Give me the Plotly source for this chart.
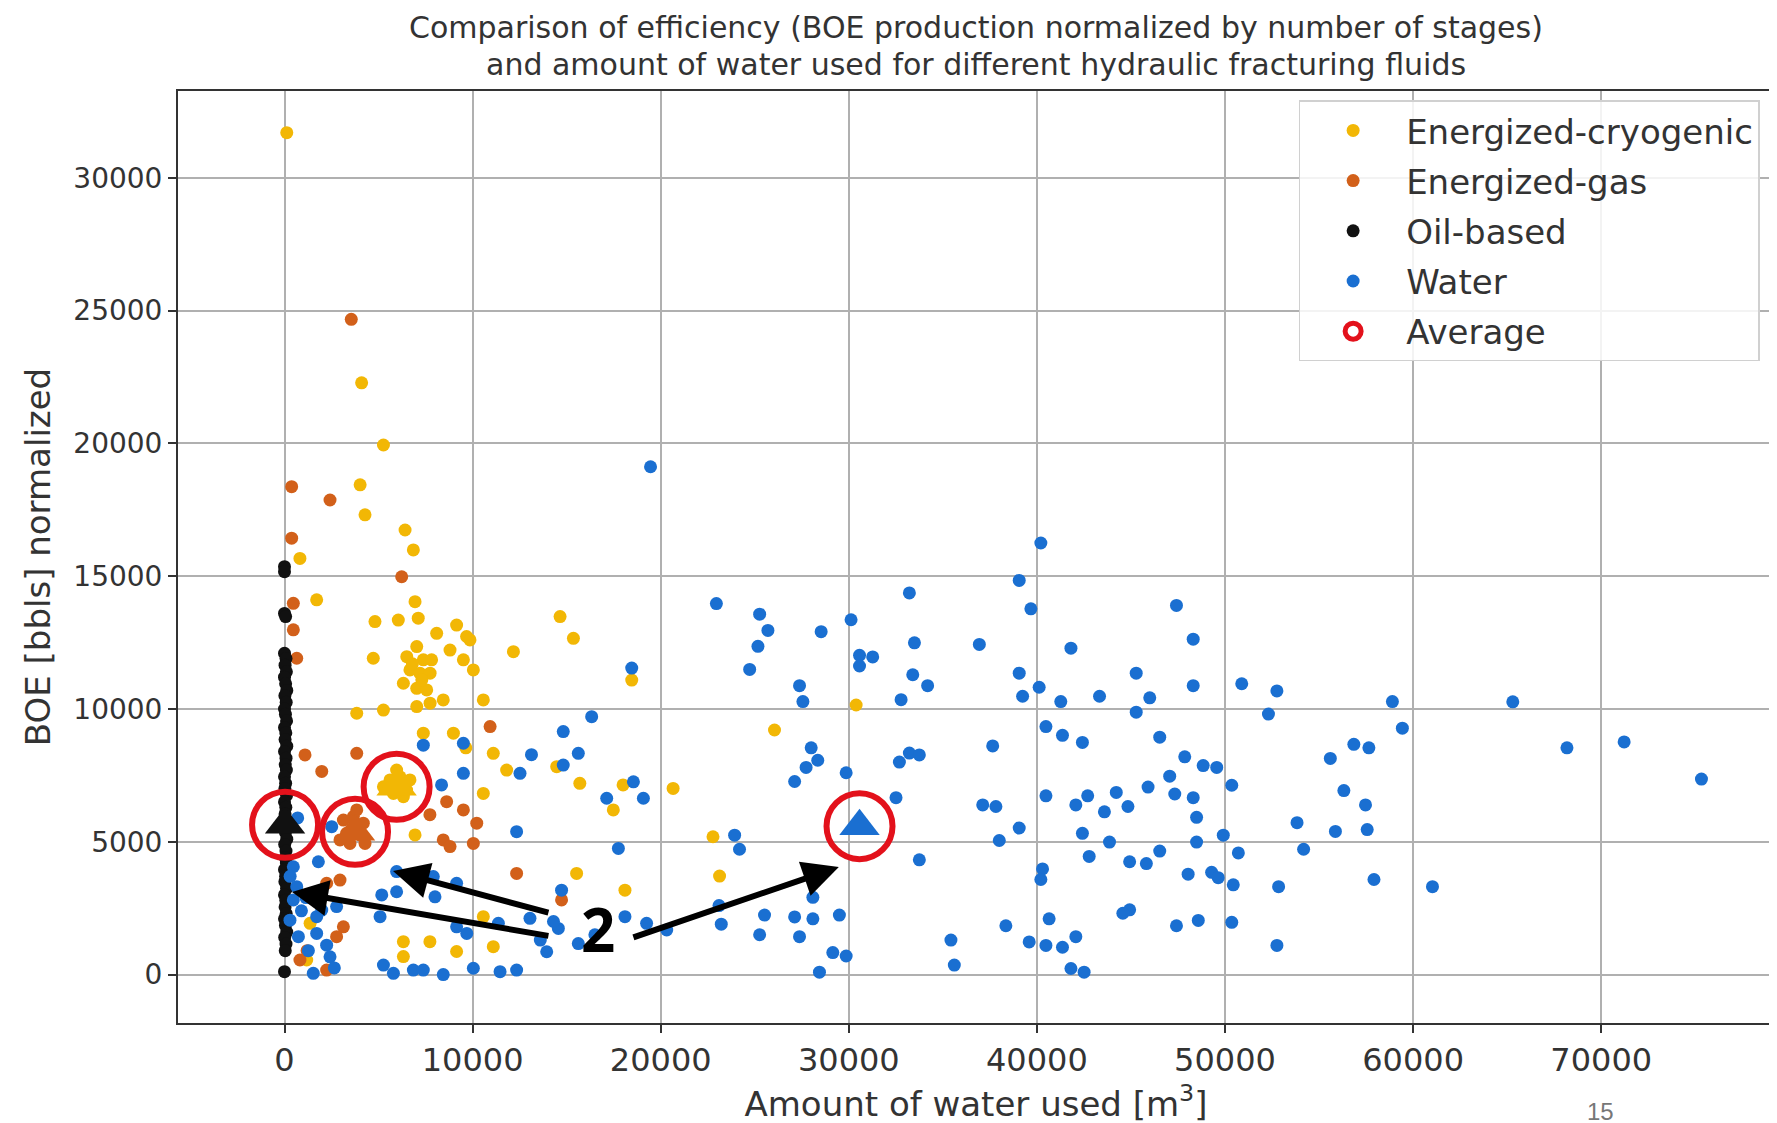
import plotly.graph_objects as go

# ---------------- data ----------------
series_names = ["Energized-cryogenic", "Energized-gas", "Oil-based", "Water"]

cryo_points = [
    (120, 31700), (4100, 22280), (5260, 19940), (4020, 18440), (4280, 17310), (6410, 16740),
    (6850, 15990), (820, 15670), (1710, 14110), (4810, 13290), (6050, 13350), (6940, 14040),
    (7110, 13420), (4720, 11910), (6500, 11970), (7030, 12350), (7380, 11850), (6670, 11470),
    (7200, 11350), (7740, 11350), (7820, 11850), (6320, 10970), (7030, 10780), (7560, 10720),
    (6800, 11700), (7300, 11100), (8090, 12850), (9150, 13160), (9680, 12730), (8800, 12220),
    (9510, 11850), (10040, 11470), (9860, 12600), (14650, 13480), (15360, 12660), (12170, 12160),
    (18460, 11090), (3840, 9840), (5260, 9960), (7030, 10090), (7740, 10220), (8440, 10340),
    (10570, 10340), (7380, 9090), (8980, 9090), (9640, 8540), (11100, 8330), (22780, 5190),
    (23130, 3710), (26050, 9210), (30390, 10150), (10570, 6820), (15700, 7200), (18000, 7140),
    (20660, 7010), (15530, 3810), (18100, 3180), (17480, 6200), (11810, 7700), (6940, 5260),
    (6320, 1240), (7730, 1240), (9150, 870), (6320, 680), (11100, 1050), (10570, 2180),
    (1360, 1930), (1180, 550), (14470, 7830), (5610, 7330), (6140, 7450), (6490, 6950),
    (5790, 6820), (5260, 7070), (6320, 6700), (6670, 7330), (5960, 7700),
]

gas_points = [
    (3550, 24670), (380, 18370), (2420, 17870), (380, 16430), (470, 13980), (470, 12980),
    (650, 11910), (6230, 14980), (10930, 9340), (1090, 8270), (3840, 8330), (1980, 7650),
    (9510, 6200), (10220, 5700), (8440, 5070), (10040, 4940), (8800, 4820), (12340, 3810),
    (14730, 2810), (2240, 3440), (2950, 3560), (3130, 1800), (2770, 1430), (820, 550),
    (2240, 170), (8620, 6510), (7730, 6020), (3130, 5820), (3660, 5950), (4190, 5700),
    (3300, 5320), (4010, 5260), (3480, 4940), (4280, 4940), (2950, 5070), (3840, 6200),
    (1200, 900), (1800, 2900),
]

oil_points = [
    (0, 15360), (0, 15170), (0, 13600), (60, 13480), (0, 110),
    (0, 12100), (80, 11900), (30, 11650), (100, 11400), (0, 11200), (60, 10950), (120, 10700),
    (20, 10500), (90, 10250), (0, 10000), (50, 9800), (110, 9550), (0, 9300), (70, 9100),
    (30, 8850), (120, 8600), (0, 8400), (80, 8150), (40, 7900), (100, 7700), (0, 7450),
    (60, 7200), (20, 7000), (110, 6750), (0, 6500), (70, 6300), (30, 6050), (90, 5800),
    (0, 5600), (50, 5350), (120, 5100), (10, 4900), (80, 4650), (40, 4400), (100, 4200),
    (0, 3950), (60, 3700), (20, 3500), (110, 3250), (0, 3000), (70, 2800), (30, 2550),
    (90, 2300), (0, 2100), (50, 1850), (120, 1600), (10, 1400), (80, 1150), (40, 900),
]

water_points = [
    # left part
    (19460, 19120), (18460, 11540), (16330, 9710), (14820, 9150), (15620, 8330), (13130, 8280),
    (9510, 8710), (7380, 8640), (9510, 7580), (8350, 7140), (12520, 7580), (14820, 7890),
    (17130, 6640), (18550, 7260), (19080, 6640), (12340, 5380), (17750, 4750), (2510, 5570),
    (1800, 4250), (5960, 3880), (7910, 3690), (9150, 3440), (5170, 3000), (5960, 3120),
    (8000, 2930), (14730, 3180), (5080, 2180), (9150, 1800), (9690, 1550), (11370, 1930),
    (13050, 2120), (14560, 1740), (15620, 1170), (13940, 860), (18100, 2180), (19250, 1930),
    (20320, 1680), (470, 4060), (470, 2810), (290, 2050), (740, 1430), (1980, 2430),
    (1710, 1550), (2240, 1110), (2420, 670), (1530, 50), (5260, 360), (5790, 50), (6850, 170),
    (7380, 170), (8440, 0), (10040, 240), (11460, 110), (12340, 170), (650, 3310), (1710, 2180),
    (700, 5900), (1140, 2900), (2770, 2560), (1270, 900), (2650, 250), (900, 2400), (300, 3700),
    (13600, 1300), (16500, 1500), (14300, 2000), (23100, 2600),
    # middle part
    (22960, 13970), (25260, 13570), (25700, 12960), (25170, 12360), (24730, 11490),
    (28530, 12910), (30120, 13360), (33220, 14370), (30570, 12020), (31270, 11960),
    (30570, 11620), (33490, 12490), (33400, 11290), (34190, 10880), (32780, 10350),
    (36940, 12430), (39060, 14840), (39680, 13770), (40210, 16250), (41810, 12290),
    (39060, 11350), (40120, 10820), (39240, 10480), (41270, 10280), (40480, 9340),
    (41360, 9010), (42420, 8740), (37650, 8610), (27380, 10880), (27560, 10280), (28000, 8540),
    (28350, 8070), (27730, 7800), (27120, 7270), (29860, 7600), (32690, 8000), (33220, 8340),
    (33750, 8270), (32510, 6660), (23930, 5250), (24190, 4720), (33750, 4320), (37120, 6390),
    (37820, 6330), (39060, 5520), (38000, 5050), (40480, 6730), (42070, 6390), (42420, 5320),
    (42780, 4450), (40300, 3980), (40210, 3580), (40650, 2100), (38350, 1840), (35430, 1300),
    (35610, 360), (39590, 1230), (40480, 1100), (41360, 1030), (42070, 1430), (41810, 230),
    (42510, 90), (28440, 90), (29150, 830), (29860, 700), (28090, 2910), (28090, 2100),
    (29500, 2240), (27120, 2170), (27380, 1430), (25520, 2240), (25260, 1500), (23220, 1900),
    # right part
    (47420, 13900), (48310, 12630), (45280, 11350), (48310, 10880), (43330, 10480),
    (46000, 10420), (45280, 9880), (50890, 10950), (52760, 10680), (52310, 9810),
    (58900, 10280), (59430, 9280), (46530, 8940), (47860, 8200), (48840, 7870), (49560, 7800),
    (50360, 7130), (55600, 8140), (56850, 8670), (57650, 8540), (56320, 6930), (57470, 6390),
    (57560, 5460), (55870, 5390), (53830, 5720), (54180, 4720), (57920, 3580), (61030, 3310),
    (52850, 3310), (52760, 1100), (50360, 1970), (48580, 2040), (47420, 1840), (44930, 2440),
    (44570, 2310), (48040, 3780), (49290, 3850), (49640, 3650), (50440, 3380), (50710, 4580),
    (49910, 5250), (48490, 4990), (48490, 5920), (48310, 6660), (47330, 6800), (47060, 7470),
    (45910, 7060), (44840, 6330), (43590, 6130), (44220, 6860), (42700, 6730), (43860, 4990),
    (44930, 4250), (45820, 4180), (46530, 4650),
    (65300, 10270), (68180, 8540), (71220, 8760), (75330, 7360),
]

# averages (one per fluid type)
avg_x = [5960, 3750, 30, 30570]
avg_y = [7070, 5380, 5640, 5590]

x_ticks = [0, 10000, 20000, 30000, 40000, 50000, 60000, 70000]
y_ticks = [0, 5000, 10000, 15000, 20000, 25000, 30000]

title_lines = [
    "Comparison of efficiency (BOE production normalized by number of stages)",
    "and amount of water used for different hydraulic fracturing fluids",
]

# ---------------- styling ----------------
colors = ["#F2B705", "#D2601A", "#111111", "#1A6FD1"]
avg_color = "#E3111B"
FONT = "DejaVu Sans"
TXT = "#333333"

fig = go.Figure()

for name, pts, col in zip(series_names, [cryo_points, gas_points, oil_points, water_points], colors):
    xs = [p[0] for p in pts]
    ys = [p[1] for p in pts]
    fig.add_trace(go.Scatter(
        x=xs, y=ys, mode="markers", name=name, legendgroup=name,
        marker=dict(size=13, color=col, line=dict(width=0)),
    ))

# triangle markers at each average
fig.add_trace(go.Scatter(
    x=avg_x, y=avg_y, mode="markers", showlegend=False,
    marker=dict(symbol="triangle-up", size=35, color=colors, line=dict(width=0)),
))

# red open circles around averages
fig.add_trace(go.Scatter(
    x=avg_x, y=avg_y, mode="markers", name="Average", legendgroup="Average",
    marker=dict(symbol="circle-open", size=66, color=avg_color, line=dict(width=6, color=avg_color)),
))

# arrows pointing at the "2" cases
arrows = [
    dict(x=400, y=3110, ax=14110, ay=1450),
    dict(x=5770, y=3900, ax=14110, ay=2320),
    dict(x=29470, y=4050, ax=18470, ay=1380),
]
for a in arrows:
    fig.add_annotation(
        x=a["x"], y=a["y"], ax=a["ax"], ay=a["ay"], xref="x", yref="y", axref="x", ayref="y",
        text="", showarrow=True, arrowhead=2, arrowsize=1.2, arrowwidth=6, arrowcolor="black",
        standoff=0, startstandoff=0,
    )

fig.add_annotation(
    x=16670, y=1730, xref="x", yref="y", text="<b>2</b>", showarrow=False,
    font=dict(family="Open Sans", size=60, color="black"),
)

# title (two centred lines)
for line, yy in zip(title_lines, [1.0681, 1.0284]):
    fig.add_annotation(
        x=0.5, y=yy, xref="paper", yref="paper", text=line, showarrow=False,
        xanchor="center", yanchor="middle",
        font=dict(family=FONT, size=30, color=TXT),
    )

# page number
fig.add_annotation(
    x=0.9008, y=-0.1112, xref="paper", yref="paper", text="15", showarrow=False,
    font=dict(family="Liberation Sans", size=24, color="#777777"),
)

axis_common = dict(
    showgrid=True, gridcolor="#b0b0b0", gridwidth=1.5,
    showline=True, linecolor="#333333", linewidth=2, mirror=True,
    ticks="outside", ticklen=8, tickwidth=1.5, tickcolor="#333333",
    zeroline=False, automargin=False,
)

fig.update_layout(
    width=1777, height=1123,
    margin=dict(l=170, r=11, t=83, b=108),
    paper_bgcolor="white", plot_bgcolor="white",
    xaxis=dict(
        range=[-5662, 79187], tickvals=x_ticks, ticktext=[str(v) for v in x_ticks],
        tickfont=dict(family=FONT, size=32, color=TXT),
        title=dict(text="Amount of water used [m<sup>3</sup>]", font=dict(family=FONT, size=34, color=TXT), standoff=8),
        **axis_common,
    ),
    yaxis=dict(
        range=[-1822, 33268], tickvals=y_ticks, ticktext=[str(v) for v in y_ticks],
        tickfont=dict(family=FONT, size=28, color=TXT),
        title=dict(text="BOE [bbls] normalized", font=dict(family=FONT, size=34, color=TXT), standoff=12),
        **axis_common,
    ),
    legend=dict(
        x=0.991, y=0.990, xanchor="right", yanchor="top",
        bgcolor="rgba(255,255,255,0.85)", bordercolor="#d0d0d0", borderwidth=1.5,
        font=dict(family=FONT, size=34, color=TXT), itemsizing="trace",
        itemwidth=96, tracegroupgap=3, traceorder="grouped",
    ),
    showlegend=True,
)

fig.write_html("out.html")
